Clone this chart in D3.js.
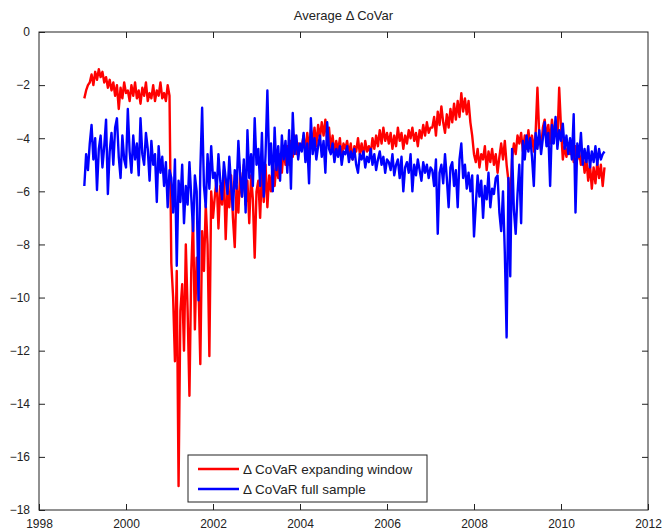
<!DOCTYPE html>
<html>
<head>
<meta charset="utf-8">
<script src="https://cdn.jsdelivr.net/npm/d3@7"></script>
<style>
    body { margin: 0; background: #fff; }
    .chart text { font-family: "Liberation Sans", Arial, Helvetica, sans-serif; fill: #222; }
</style>
</head>
<body>
<div class="chart"></div>
<script>
// semi-monthly samples, one row per year, first sample at startYear + 1/24
const startYear = 1999;
const stepsPerYear = 24;

const redValues = [
    -2.5, -2.2, -2.0, -1.9, -1.6, -2.0, -1.5, -1.8, -1.4, -1.7, -1.5, -1.9, -1.7, -2.1, -1.8, -2.2, -1.9, -2.4, -2.0, -2.9, -2.1, -2.5, -1.9, -2.3,
    -2.2, -2.6, -2.0, -2.4, -1.9, -2.5, -2.2, -2.7, -2.1, -2.4, -1.9, -2.6, -2.3, -2.5, -2.0, -2.6, -2.2, -2.4, -1.9, -2.5, -2.3, -2.6, -2.0, -2.4,
    -8.7, -10.0, -12.4, -9.0, -17.1, -10.5, -9.5, -12.0, -8.0, -10.5, -13.7, -9.0, -7.0, -11.2, -8.5, -9.5, -12.5, -7.5, -9.0, -6.5, -8.0, -12.2, -6.0, -7.0,
    -6.2, -5.5, -7.4, -5.8, -6.5, -5.2, -7.8, -5.9, -6.6, -5.4, -7.0, -8.1, -5.8, -6.8, -5.3, -6.2, -5.0, -6.5, -5.6, -7.2, -5.4, -6.3, -8.5, -6.0,
    -5.6, -7.0, -5.2, -6.4, -5.0, -6.6, -5.4, -6.0, -4.8, -5.8, -5.0, -5.5, -4.6, -5.3, -4.4, -5.0, -4.3, -5.0, -4.1, -4.7, -3.9, -4.6, -4.2, -4.4,
    -4.3, -3.9, -4.5, -3.8, -4.4, -3.7, -4.2, -3.6, -4.3, -3.5, -4.0, -3.4, -3.9, -3.3, -4.1, -3.6, -4.4, -3.9, -4.6, -4.1, -4.5, -4.0, -4.7, -4.2,
    -4.4, -4.1, -4.6, -4.2, -4.8, -4.3, -4.5, -4.0, -4.6, -4.2, -4.7, -4.1, -4.5, -4.3, -4.6, -4.0, -4.4, -3.9, -4.3, -3.7, -4.2, -3.6, -4.1, -3.8,
    -4.2, -3.8, -4.4, -3.9, -4.3, -3.6, -4.1, -3.8, -4.4, -3.9, -4.2, -3.7, -4.0, -3.6, -4.1, -3.8, -4.3, -3.7, -4.0, -3.5, -3.9, -3.4, -3.8, -3.6,
    -3.6, -3.2, -3.9, -3.0, -3.5, -2.8, -3.4, -3.8, -3.1, -3.6, -2.9, -3.4, -2.7, -3.3, -2.6, -3.2, -2.3, -3.0, -2.5, -3.1, -2.6, -3.4, -3.9, -4.6,
    -4.9, -4.4, -5.1, -4.6, -4.8, -4.3, -5.2, -4.5, -4.9, -4.4, -5.0, -4.6, -5.3, -4.7, -4.2, -4.8, -4.1, -5.0, -5.6, -6.4, -4.8, -4.2, -4.6, -3.9,
    -4.2, -3.8, -4.5, -3.9, -4.4, -3.7, -4.3, -3.9, -4.5, -3.8, -2.1, -3.9, -4.4, -3.6, -3.3, -4.0, -3.5, -4.2, -3.3, -3.9, -3.4, -4.1, -2.1, -3.6,
    -4.8, -4.3, -4.7, -4.2, -4.6, -4.4, -4.9, -4.3, -4.8, -4.5, -5.0, -4.6, -5.3, -4.8, -5.6, -5.0, -5.9, -5.1, -5.7, -4.9, -5.5, -5.0, -5.8, -5.1
];

const blueValues = [
    -5.8, -4.6, -5.2, -4.2, -3.5, -4.8, -4.0, -5.95, -4.4, -3.9, -5.1, -4.3, -3.3, -6.1, -4.5, -3.8, -5.0, -3.6, -3.25, -4.7, -5.5, -3.9, -4.8, -5.1,
    -2.9, -4.5, -5.3, -3.9, -4.8, -4.2, -5.4, -3.25, -4.6, -5.0, -3.8, -4.4, -5.6, -4.1, -5.0, -4.6, -6.4, -4.3, -5.3, -4.7, -5.8, -4.9, -6.6, -5.2,
    -5.5, -6.8, -4.8, -8.8, -5.6, -6.4, -5.0, -7.2, -5.8, -6.5, -4.9, -6.2, -7.5, -5.4, -6.0, -10.1, -5.2, -2.85, -5.8, -6.6, -4.6, -5.9, -4.3, -5.5,
    -5.3, -6.0, -4.6, -5.6, -6.3, -4.9, -5.5, -6.1, -4.7, -5.8, -6.7, -5.2, -5.9, -4.1, -5.4, -6.2, -4.8, -6.8, -3.7, -5.5, -4.6, -5.8, -3.25, -5.0,
    -4.4, -5.8, -3.8, -6.2, -4.6, -2.2, -5.0, -4.2, -6.0, -3.6, -5.2, -4.3, -5.6, -3.9, -4.8, -4.1, -5.3, -3.7, -5.9, -3.05, -4.6, -3.9, -4.8, -4.2,
    -4.5, -3.8, -4.9, -4.2, -5.7, -3.25, -4.6, -4.0, -4.8, -4.3, -3.9, -4.7, -4.1, -5.3, -3.4, -4.4, -4.6, -4.2, -4.9, -4.4, -4.7, -4.3, -5.0, -4.5,
    -4.6, -4.3, -4.9, -4.5, -4.8, -4.4, -5.0, -5.3, -4.6, -4.8, -4.5, -5.1, -4.7, -4.9, -4.4, -5.0, -4.6, -5.2, -4.8, -4.5, -5.0, -4.7, -5.3, -4.8,
    -4.9, -5.2, -4.6, -5.4, -5.0, -4.8, -5.5, -4.7, -6.0, -5.1, -4.9, -5.3, -4.6, -6.0, -5.0, -5.4, -4.8, -5.2, -5.6, -4.9, -5.3, -5.0, -5.5, -5.1,
    -5.2, -5.8, -4.8, -7.6, -5.3, -5.0, -5.7, -4.6, -5.5, -6.6, -5.1, -4.9, -5.8, -5.2, -6.6, -4.8, -4.2, -5.5, -5.0, -5.9, -5.3, -6.0, -5.4, -7.7,
    -6.5, -5.4, -6.2, -5.6, -7.0, -5.8, -6.3, -5.3, -6.6, -5.9, -6.1, -5.5, -5.4, -6.8, -7.5, -6.0, -8.3, -11.5, -5.5, -9.2, -4.4, -6.7, -7.6, -6.1,
    -5.0, -7.2, -4.1, -4.8, -3.9, -4.5, -4.0, -4.7, -5.8, -3.8, -4.4, -3.7, -4.6, -4.0, -3.4, -4.3, -3.8, -5.8, -3.5, -4.2, -3.2, -4.4, -3.7, -4.1,
    -3.45, -4.4, -3.9, -4.6, -4.0, -4.8, -3.1, -6.8, -4.2, -4.7, -3.8, -5.0, -4.4, -4.9, -4.3, -5.1, -4.5, -4.9, -4.3, -5.0, -4.4, -4.8, -4.6, -4.5
];

const seriesNames = ['\u0394 CoVaR expanding window', '\u0394 CoVaR full sample'];
const seriesColors = ['#ff0000', '#0000ff'];
const xTicks = [1998, 2000, 2002, 2004, 2006, 2008, 2010, 2012];
const yTicks = [0, -2, -4, -6, -8, -10, -12, -14, -16, -18];
const chartTitle = 'Average \u0394 CoVar';

const width = 666;
const height = 532;
const margin = { 'top': 32, 'left': 39, 'right': 18, 'bottom': 22 };
const innerW = width - margin.left - margin.right;
const innerH = height - margin.top - margin.bottom;

const svg = d3.select('.chart').append('svg').attr('width', width).attr('height', height);

const scaleX = d3.scaleLinear().domain([1998, 2012]).range([0, innerW]);
const scaleY = d3.scaleLinear().domain([-18, 0]).range([innerH, 0]);

const plot = svg.append('g').attr('transform', 'translate(' + margin.left + ',' + margin.top + ')');

const toPoints = function (values) {
    return values.map(function (v, i) {
        return { t: startYear + (i + 1) / stepsPerYear, v: v };
    });
};

const line = d3.line()
    .x(function (d) { return scaleX(d.t); })
    .y(function (d) { return scaleY(d.v); });

[redValues, blueValues].forEach(function (values, i) {
    plot.append('path')
        .datum(toPoints(values))
        .attr('fill', 'none')
        .attr('stroke', seriesColors[i])
        .attr('stroke-width', 2.4)
        .attr('stroke-linejoin', 'round')
        .attr('d', line);
});

// matlab style box with inward ticks on every side
const tickLen = 6;
const styleAxis = function (g) {
    g.select('.domain').remove();
    g.selectAll('line').attr('stroke', '#222');
    g.selectAll('text').style('font-size', '12px');
};

plot.append('g').attr('transform', 'translate(0,' + innerH + ')')
    .call(d3.axisBottom(scaleX).tickValues(xTicks).tickFormat(d3.format('d')).tickSizeInner(-tickLen).tickSizeOuter(0).tickPadding(9))
    .call(styleAxis);
plot.append('g')
    .call(d3.axisTop(scaleX).tickValues(xTicks.slice(1, -1)).tickSizeInner(-tickLen).tickSizeOuter(0).tickFormat(''))
    .call(styleAxis);
plot.append('g')
    .call(d3.axisLeft(scaleY).tickValues(yTicks).tickSizeInner(-tickLen).tickSizeOuter(0).tickPadding(9))
    .call(styleAxis);
plot.append('g').attr('transform', 'translate(' + innerW + ',0)')
    .call(d3.axisRight(scaleY).tickValues(yTicks.slice(1, -1)).tickSizeInner(-tickLen).tickSizeOuter(0).tickFormat(''))
    .call(styleAxis);

plot.append('rect')
    .attr('width', innerW).attr('height', innerH)
    .attr('fill', 'none').attr('stroke', '#222').attr('stroke-width', 1);

svg.append('text')
    .attr('x', margin.left + innerW / 2)
    .attr('y', 20)
    .attr('text-anchor', 'middle')
    .style('font-size', '13px')
    .text(chartTitle);

// legend, lower middle of the axes
const legend = svg.append('g').attr('transform', 'translate(188,455)');
legend.append('rect')
    .attr('width', 239).attr('height', 47)
    .attr('fill', '#fff').attr('stroke', '#222').attr('stroke-width', 1);

const items = legend.selectAll('.item').data(seriesNames).enter().append('g')
    .attr('class', 'item')
    .attr('transform', function (d, i) { return 'translate(0,' + (14 + i * 20) + ')'; });
items.append('line')
    .attr('x1', 10).attr('x2', 51)
    .attr('stroke', function (d, i) { return seriesColors[i]; })
    .attr('stroke-width', 2.4);
items.append('text')
    .attr('x', 55).attr('dy', '0.35em')
    .style('font-size', '13.5px')
    .text(function (d) { return d; });
</script>
</body>
</html>
